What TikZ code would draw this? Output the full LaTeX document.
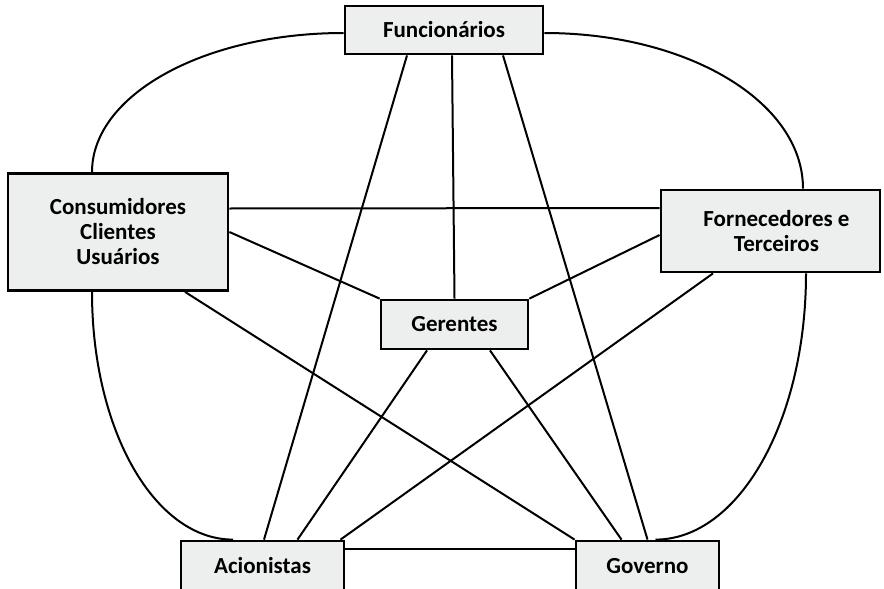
\documentclass[tikz,border=0pt]{standalone}
\usepackage{fontspec}
\setmainfont{Carlito}
\usetikzlibrary{calc}
\definecolor{boxfill}{HTML}{EDEEEE}
\tikzset{
  labelfont/.style={font=\fontsize{23}{25}\selectfont\bfseries},
  party/.style={draw=black, line width=2.8pt, fill=boxfill, rectangle,
    inner sep=0pt, align=center, labelfont},
  tie/.style={line width=2pt, draw=black}
}
\begin{document}
\begin{tikzpicture}[x=1pt, y=-1pt]
  \useasboundingbox (0,0) rectangle (884,589);
  \fill[white] (0,0) rectangle (884,589);

  % stakeholder boxes
  \node[party, minimum width=198pt, minimum height=48pt] (fun) at (444,30) {Funcionários};
  \node[party, minimum width=220pt, minimum height=117pt] (con) at (118,232) {Consumidores\\Clientes\\Usuários};
  \node[party, minimum width=219pt, minimum height=82pt] (forn) at (770.5,231) {};
  \node[labelfont, align=center, inner sep=0pt] (fornlbl) at (776.5,231) {Fornecedores e\\Terceiros};
  \node[party, minimum width=147pt, minimum height=49pt] (ger) at (454.5,324.5) {Gerentes};
  \node[party, minimum width=163pt, minimum height=50pt] (aci) at (262.5,566) {Acionistas};
  \node[party, minimum width=143pt, minimum height=50pt] (gov) at (647.5,566) {Governo};

  % outer curved ties
  \draw[tie] ([yshift=-3pt]fun.west) .. controls +(-140,0) and +(0,-77) .. ([xshift=-26pt]con.north);
  \draw[tie] ([yshift=-3pt]fun.east) .. controls +(143,0) and +(0,-87) .. ([xshift=32.5pt]forn.north);
  \draw[tie] ([xshift=-26pt]con.south) .. controls +(0,139) and +(-78,0) .. ([xshift=-29.5pt]aci.north);
  \draw[tie] ([xshift=35.5pt]forn.south) .. controls +(0,148) and +(83,0) .. ([xshift=8pt]gov.north);

  % straight ties
  \draw[tie] ([xshift=-37pt]fun.south) -- ([xshift=1.5pt]aci.north);
  \draw[tie] ([xshift=8pt]fun.south) -- (ger.north);
  \draw[tie] ([xshift=59pt]fun.south) -- (gov.north);
  \draw[tie] ([yshift=23.5pt]con.east) -- ([yshift=23pt]forn.west);
  \draw[tie] (con.east) -- (ger.north west);
  \draw[tie] ([yshift=-4pt]forn.west) -- (ger.north east);
  \draw[tie] ([xshift=67pt]con.south) -- (gov.north west);
  \draw[tie] ([xshift=-57.5pt]forn.south) -- ([xshift=78pt]aci.north);
  \draw[tie] ([xshift=-27.5pt]ger.south) -- ([xshift=35pt]aci.north);
  \draw[tie] ([xshift=35.5pt]ger.south) -- ([xshift=-26pt]gov.north);
  \draw[tie] ([yshift=17pt]aci.east) -- ([yshift=17pt]gov.west);
\end{tikzpicture}
\end{document}
